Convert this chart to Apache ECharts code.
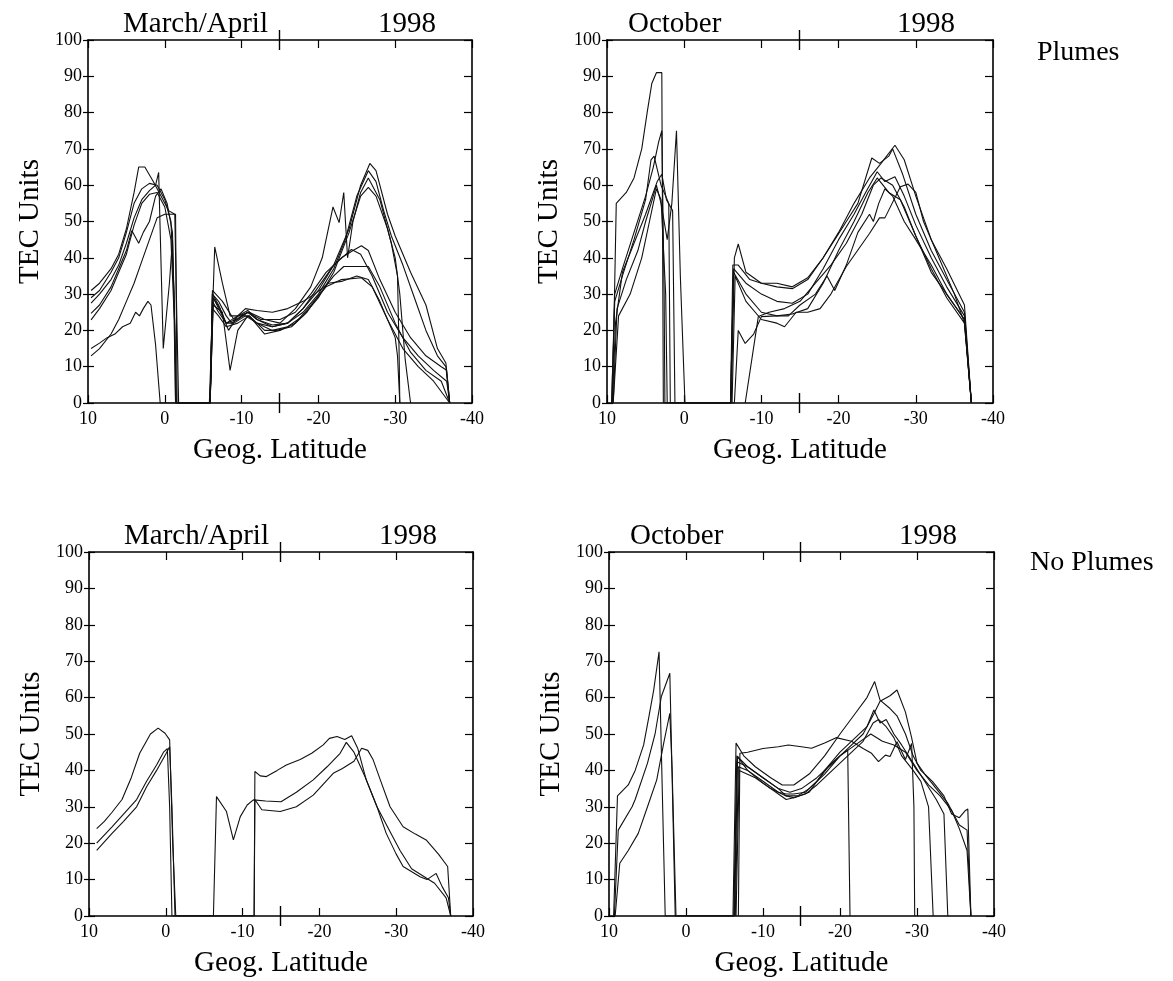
<!DOCTYPE html>
<html>
<head>
<meta charset="utf-8">
<script src="https://cdn.jsdelivr.net/npm/echarts@6/dist/echarts.min.js"></script>
<style>
  html, body { margin: 0; padding: 0; background: #fff; }
  #chart { width: 1173px; height: 981px; }
</style>
</head>
<body>
<div id="chart"></div>
<script>
// ---------- axis settings ----------
const latMin = -40, latMax = 10, latStep = 10;
const tecMin = 0, tecMax = 100, tecStep = 10;
const extraTickLat = [-14.9];

// ---------- panel texts ----------
const panelMonths = ['March/April', 'October', 'March/April', 'October'];
const panelYears = ['1998', '1998', '1998', '1998'];
const rowLabels = ['Plumes', 'No Plumes'];
const xName = 'Geog. Latitude';
const yName = 'TEC Units';

// ---------- data: [latitude, TEC] per pass ----------
// March/April 1998, plumes
const marchPlumes = [
  [[9.6,31],[8.5,33],[7,37],[6,41],[5,48],[4,58],[3.4,65],[2.6,65],[1.5,61],[0.5,57],[-0.5,53],[-1.3,52],[-1.6,20],[-1.8,0],[-5.9,0],[-6.2,30],[-7,28],[-8,24],[-8.7,22],[-9.5,23],[-10.8,25],[-12,23],[-14,21],[-16,22],[-18,26],[-20,31],[-22,38],[-24,48],[-25.5,60],[-26.7,66],[-27.5,64],[-29,52],[-30,46],[-32,36],[-34,27],[-35.5,15],[-36.6,11],[-37.1,0]],
  [[9.6,29],[8.5,31],[7,36],[6,40],[5,47],[4,55],[3,59],[2,60.5],[1,60],[0,56],[-0.8,50],[-1.2,30],[-1.5,0],[-5.9,0],[-6.3,29],[-7.2,26],[-8.3,20],[-9.5,24],[-10.8,25.5],[-12,23],[-14,21.5],[-16,22],[-18,25],[-20,30],[-22,37],[-23.5,45],[-25,57],[-26.5,64],[-27.5,61],[-28.5,53],[-29.5,46],[-31,38],[-32.5,29],[-34,20],[-35.5,13],[-36.6,10],[-37.1,0]],
  [[9.6,27.5],[8.5,30],[7,34],[6,38],[5,44],[4,51],[3,56],[2,58.5],[1.2,60],[0.8,63.5],[0.2,15],[-0.6,33],[-1,45],[-1.3,20],[-1.4,0],[-5.8,0],[-6.5,43],[-7.5,33],[-8.5,24],[-9.5,24],[-11,25],[-13,23],[-15,22],[-17,26],[-19,32],[-20.5,40],[-21.9,54],[-22.7,49.7],[-23.3,58],[-23.8,40],[-24.5,50],[-25.5,58],[-26.5,62],[-28,56],[-29.5,44],[-30.3,35],[-30.5,15],[-30.6,0]],
  [[9.6,24.7],[8.5,27],[7,32],[6,37],[5,42],[4.3,47.5],[3.4,44],[2.8,47],[2,50],[1.2,57],[0.5,59],[-0.3,55],[-1,47],[-1.3,20],[-1.5,0],[-5.9,0],[-6.2,28],[-7,25],[-8,22],[-9,22],[-10.5,24],[-12,22],[-14,20],[-16,21],[-18,24],[-20,29],[-22,36],[-24,47],[-25.5,57],[-26.5,59.4],[-27.5,57],[-29,48],[-30,40],[-30.6,30],[-31.3,12],[-32,0]],
  [[9.6,22.9],[8.5,26],[7,31],[6,36],[5,41],[4,49],[3,55],[2,57.5],[1,58],[0,54],[-0.8,45],[-1.2,25],[-1.4,0],[-5.9,0],[-6.2,30],[-7,27],[-8,22],[-9.3,23],[-10.8,25],[-12.5,23],[-15,23],[-17,25],[-19,30],[-21,36],[-23,40],[-24.5,42],[-25.6,43.3],[-26.5,42],[-28,34],[-30,25],[-32,18],[-34,13],[-36,10],[-36.7,9],[-37.1,0]],
  [[9.6,15],[8.5,16.5],[7.5,18],[6.5,19],[5.5,21],[4.5,22],[3.8,25],[3.3,24],[2.8,26],[2.2,28],[1.8,27],[1.2,16],[0.6,0],[-5.9,0],[-6.3,27],[-7.5,25],[-8.5,9],[-9.5,20],[-10.8,24],[-12,22],[-14,21],[-16,22],[-18,26],[-20,32],[-22,38],[-24.3,42.3],[-25.5,41],[-27,35],[-29,25],[-31,18],[-33,13],[-35,9],[-36.7,6],[-37.1,0]],
  [[9.6,13],[8.5,15],[7,19],[6,23],[5,28],[4,33],[3,39],[2,45],[1,51],[0,52],[-1,52],[-1.4,52],[-1.6,0],[-5.9,0],[-6.2,26],[-7,24],[-8,21],[-9.5,22],[-11,24],[-13,20],[-14.5,20],[-16.5,21],[-18.5,25],[-20.5,31],[-22,35],[-23.3,37.6],[-26.5,37.6],[-28,32],[-30,22],[-32,14],[-34,9],[-36,6],[-37.1,0]],
  [[-5.9,0],[-6.3,29],[-8,22],[-9.5,24],[-11,24],[-13,19],[-15,20],[-17,22],[-19,27],[-21,32],[-23,34],[-25.6,34.5],[-27,32],[-29,23],[-31,15],[-33,10],[-35,6],[-37.1,0]],
  [[-5.9,0],[-6.2,31],[-7.5,28],[-9,23],[-10.5,26],[-12,25.5],[-14,25],[-16,26],[-18,28],[-19.5,30],[-21.3,33],[-23,33.5],[-25,35],[-26.5,34],[-28,28],[-30,18],[-30.3,13],[-30.6,0]]
];

// October 1998, plumes
const octoberPlumes = [
  [[9.3,0],[8.8,55],[7.5,58],[6.5,62],[5.5,70],[4.8,80],[4.2,88],[3.6,91],[2.9,91],[2.7,0],[-6,0],[-6.3,38],[-7,38],[-8.5,34],[-10,33],[-12,32],[-14,31.5],[-16,34],[-18,40],[-20,47],[-22,55],[-24,62],[-25.5,66],[-27.3,71],[-28.5,67],[-30,57],[-32,45],[-34,37],[-36.3,27],[-37.2,0]],
  [[9.4,0],[9,30],[8,37],[6.5,47],[5,57],[4,65],[3.3,72],[2.9,75],[2.6,30],[2.5,0],[-6.1,0],[-6.5,40],[-7,43.8],[-8,36],[-10,33],[-12,33],[-14,32],[-16,34.5],[-18,40],[-19.5,45],[-21,50],[-22.5,55],[-24.3,67.5],[-25.3,66],[-26.5,68],[-27,70],[-28.3,63],[-30,52],[-32,42],[-34,34],[-36.3,25],[-37.2,0]],
  [[9.4,0],[9,28],[8,35],[6.5,45],[5,56],[4.3,67],[3.9,68],[3,60],[2,55],[1.8,0],[-6,0],[-6.4,37],[-8,33],[-10,30],[-12,28],[-14,27.5],[-16,30],[-18,37],[-20,45],[-22,52],[-23.5,58],[-25,63.7],[-26,61],[-27.3,62.3],[-28.5,57],[-30,49],[-32,40],[-34,32],[-36.3,24],[-37.2,0]],
  [[9.3,0],[8.9,22],[8,36],[6.5,44],[5,52],[4,58],[3.5,61],[2.9,63],[2.3,56],[1.5,53],[1.2,0],[-6,0],[-6.4,36],[-8,30],[-10,25],[-12,24],[-13.5,24],[-15,27],[-17,30],[-18.5,35],[-19.5,31],[-21,38],[-22.5,47],[-24,52],[-24.5,50],[-25.2,55],[-26,59],[-27,57],[-28.5,50],[-30,45],[-32,38],[-34,30],[-36.3,23],[-37.2,0]],
  [[9.2,0],[8.7,26],[7.5,34],[6,42],[5,50],[4,57],[3.6,60],[3,55],[2.2,45],[1.6,55],[1,75],[0.5,35],[-0.1,0],[-6.2,0],[-6.6,35],[-8,28],[-10,23],[-12,22],[-13,21],[-14.5,25],[-16,25],[-17.6,26],[-19,30],[-21,37.6],[-24,46.7],[-25.3,51],[-26,51],[-28,59.6],[-29,60.3],[-30,58],[-31,50],[-33,40],[-35,30],[-36.3,22],[-37.2,0]],
  [[9.2,0],[8.5,24],[7,30],[5.5,40],[4.5,50],[3.6,59],[3,56],[2.4,30],[2.2,0],[-6.5,0],[-7,20],[-7.9,16.4],[-9,19],[-10,23.8],[-12,24],[-14,24.5],[-16,26],[-18,33],[-20,42],[-22,50],[-23.8,58],[-25,62],[-26.5,58],[-28,56],[-30,46],[-32,36],[-34,30],[-36.3,23],[-37.2,0]],
  [[-7.9,0],[-9.6,23.8],[-11,25],[-13,26],[-15,28],[-17,33],[-19,38],[-21,44],[-23,52],[-24.5,60],[-25.5,62],[-27,60],[-28.5,54],[-30,46],[-32,37],[-34,29],[-36.3,22],[-37.2,0]]
];

// March/April 1998, no plumes
const marchNoPlumes = [
  [[9,24],[8,26],[7,28.5],[5.7,32],[4.5,38],[3.4,44.7],[2,50],[1,51.6],[0.1,50.2],[-0.5,48.4],[-0.9,20],[-1.3,0],[-6.2,0],[-6.6,32.8],[-7.9,28.7],[-8.8,20.9],[-9.7,27.3],[-10.6,30.5],[-11.4,31.9],[-13,31.6],[-15,31.4],[-17,34],[-19.2,37.4],[-21,41],[-22.7,44.7],[-23.5,47.7],[-24.5,45],[-26,38],[-27.5,30],[-29,24],[-30.5,18],[-32,13],[-33.5,11],[-35,9],[-36.5,5],[-37.1,0]],
  [[9,20],[7,24.5],[5.5,28],[3.8,32],[2.5,37],[1.2,41.5],[0.3,45],[-0.2,46],[-0.5,30],[-0.8,0],[-11.5,0],[-11.6,39.7],[-12.3,38.5],[-13.1,38.3],[-14.5,40],[-15.7,41.5],[-17.5,43],[-19,44.7],[-20.5,47],[-21.3,48.8],[-22.3,49.3],[-23.3,48.5],[-24.2,49.5],[-25,46],[-26.1,37.4],[-27.5,30],[-28.7,22.7],[-30,17],[-30.9,13.6],[-33.1,10.8],[-34,10],[-35.2,11.7],[-36,8],[-36.8,5],[-37.1,0]],
  [[9,18],[7,22.7],[5.5,26],[3.8,30],[2.5,35.5],[1.2,40],[0,44.5],[-0.5,46.5],[-0.8,30],[-1.2,0],[-11.5,0],[-11.6,32],[-12.5,29.2],[-14.9,28.7],[-17,30],[-19.2,33.2],[-21.8,39.2],[-23,40.5],[-24.5,42.5],[-25.5,46.1],[-26.3,45.5],[-27,42.9],[-28,37],[-29.2,30],[-30.9,24.5],[-32.5,22.5],[-33.9,20.9],[-35.5,17],[-36.7,13.6],[-37.1,0]]
];

// October 1998, no plumes
const octoberNoPlumes = [
  [[9.4,0],[8.9,33],[7.5,36],[6.6,40],[5.5,47],[4.9,53.8],[4.2,62],[3.5,72.6],[2.7,0],[-6.1,0],[-6.5,47.5],[-7.5,44],[-9,41],[-11,38],[-12.5,36],[-14,36],[-16,39],[-18,44],[-20,50],[-22,55.7],[-23.5,60],[-24.5,64.4],[-25.2,59.3],[-26.5,57],[-27.4,55],[-28.5,50],[-29.5,44],[-30.5,40],[-32,37],[-33.5,33],[-34.5,28],[-35.5,27],[-36.3,29],[-36.6,29.4],[-37,0]],
  [[9.3,0],[8.8,23.6],[7,30],[6.6,32],[5,42],[4,50.2],[3.2,60.3],[2.1,66.7],[1.4,0],[-6.3,0],[-6.6,44],[-8,41],[-10,38],[-12,35],[-13.5,34],[-15,35],[-17,38],[-19,42],[-21,46],[-23,50],[-24.5,56],[-25.2,59],[-26.5,60.5],[-27.4,62.1],[-28.5,56],[-29.3,49],[-30,42],[-31,39],[-32.5,35],[-34,31],[-35.5,25],[-36.5,23.6],[-37,0]],
  [[9.2,0],[8.6,14.5],[7.5,18],[6.2,22.7],[5,30],[3.8,37.4],[2.9,47.4],[2.1,55.7],[1.8,40],[1.3,0],[-6.2,0],[-6.6,42.4],[-8,41],[-10,38],[-12,35],[-13,33],[-14,32.5],[-16,34],[-18,40],[-20,45],[-22,49],[-23.5,52],[-24.4,56.6],[-25.2,53],[-26,54],[-27,50],[-28,47],[-29.5,42],[-31,37],[-32.5,32],[-33.5,28],[-34,0]],
  [[-6.8,0],[-7,44.7],[-8,45],[-10,46],[-12,46.5],[-13.3,47],[-15,46.5],[-16.3,46.1],[-18,47.5],[-19.5,49],[-21.5,48],[-23,46],[-24.1,44.7],[-25,42.4],[-25.9,44.2],[-26.5,43.8],[-27.4,47.9],[-28.5,43],[-29.3,47.4],[-29.6,30],[-29.7,0]],
  [[-6.3,0],[-6.7,43.8],[-8,40],[-10,37],[-12,34],[-13,33.5],[-14,33.5],[-15.5,34],[-17,37],[-18.5,41],[-20,44],[-21,45.6],[-21.3,0]],
  [[-6.4,0],[-6.8,41],[-8,40],[-10,36.5],[-12,33.5],[-13,32],[-14,32.5],[-15.5,33.5],[-17,36],[-19,40],[-21,44],[-23,48],[-24.3,53],[-25,54],[-26,52],[-27,49],[-28,44],[-29.5,40],[-30.5,37],[-31.5,30],[-32.1,0]],
  [[-6.5,0],[-6.9,40],[-9,38],[-11,35],[-13,33],[-14.5,33],[-16,35],[-18,39],[-20,44],[-22,47],[-24,50],[-25.5,48],[-27,47],[-28.5,45],[-30,40],[-31.5,36],[-33,33],[-34.5,29],[-35.5,24],[-36.5,18],[-37,0]]
];

const panels = [marchPlumes, octoberPlumes, marchNoPlumes, octoberNoPlumes];

// ---------- layout ----------
const FONT = "'Liberation Serif', 'Times New Roman', serif";
const grids = [
  { left: 88,  top: 40,  width: 384, height: 363 },
  { left: 607, top: 40,  width: 386, height: 363 },
  { left: 89,  top: 552, width: 384, height: 364 },
  { left: 609, top: 552, width: 385, height: 364 }
];

const lineCol = '#000';
const xAxes = [], yAxes = [], series = [], graphics = [];

grids.forEach((g, i) => {
  const baseX = {
    gridIndex: i, type: 'value', min: latMin, max: latMax, interval: latStep,
    inverse: true, splitLine: { show: false }
  };
  const mainLine = { show: true, onZero: false, lineStyle: { color: lineCol, width: 1.6 } };
  const noLine = { show: false, onZero: false };
  // bottom main
  xAxes.push(Object.assign({}, baseX, {
    position: 'bottom',
    axisLine: mainLine,
    axisTick: { show: true, inside: true, length: 8, lineStyle: { color: lineCol, width: 1.2 } },
    axisLabel: { show: true, color: '#000', fontFamily: FONT, fontSize: 18, margin: 7 },
    name: xName, nameLocation: 'middle', nameGap: 33,
    nameTextStyle: { color: '#000', fontFamily: FONT, fontSize: 29 }
  }));
  // top mirror
  xAxes.push(Object.assign({}, baseX, {
    position: 'top',
    axisLine: mainLine,
    axisTick: { show: true, inside: true, length: 8, lineStyle: { color: lineCol, width: 1.2 } },
    axisLabel: { show: false }
  }));
  // long crossing tick, bottom
  xAxes.push(Object.assign({}, baseX, {
    position: 'bottom', offset: 10,
    axisLine: noLine,
    axisTick: { show: true, inside: true, length: 20, customValues: extraTickLat, lineStyle: { color: lineCol, width: 1.4 } },
    axisLabel: { show: false }
  }));
  // long crossing tick, top
  xAxes.push(Object.assign({}, baseX, {
    position: 'top', offset: 10,
    axisLine: noLine,
    axisTick: { show: true, inside: true, length: 20, customValues: extraTickLat, lineStyle: { color: lineCol, width: 1.4 } },
    axisLabel: { show: false }
  }));

  const baseY = {
    gridIndex: i, type: 'value', min: tecMin, max: tecMax, interval: tecStep,
    splitLine: { show: false }
  };
  yAxes.push(Object.assign({}, baseY, {
    position: 'left',
    axisLine: mainLine,
    axisTick: { show: true, inside: true, length: 6, lineStyle: { color: lineCol, width: 1.2 } },
    axisLabel: { show: true, color: '#000', fontFamily: FONT, fontSize: 18, margin: 6 },
    name: yName, nameLocation: 'middle', nameGap: 43,
    nameTextStyle: { color: '#000', fontFamily: FONT, fontSize: 29 }
  }));
  yAxes.push(Object.assign({}, baseY, {
    position: 'right',
    axisLine: mainLine,
    axisTick: { show: true, inside: true, length: 8, lineStyle: { color: lineCol, width: 1.2 } },
    axisLabel: { show: false }
  }));
  yAxes.push(Object.assign({}, baseY, {
    position: 'left', offset: 5,
    axisLine: noLine,
    axisTick: { show: true, inside: true, length: 5, lineStyle: { color: lineCol, width: 1.2 } },
    axisLabel: { show: false }
  }));

  panels[i].forEach((curve, k) => {
    series.push({
      type: 'line', name: 'p' + i + '_' + k,
      xAxisIndex: i * 4, yAxisIndex: i * 3,
      data: curve, symbol: 'none', smooth: false,
      lineStyle: { color: '#111', width: 1.1 },
      z: 3
    });
  });

  // panel titles
  const titleY = g.top - 15;
  graphics.push({
    type: 'text', left: g.left + (i % 2 === 0 ? 35 : 21), top: titleY - 15,
    style: { text: panelMonths[i], font: '29px ' + FONT, fill: '#000' }
  });
  graphics.push({
    type: 'text', left: g.left + 290, top: titleY - 15,
    style: { text: panelYears[i], font: '29px ' + FONT, fill: '#000' }
  });
});

graphics.push({ type: 'text', left: 1037, top: 39,
  style: { text: rowLabels[0], font: '28px ' + FONT, fill: '#000' } });
graphics.push({ type: 'text', left: 1030, top: 549,
  style: { text: rowLabels[1], font: '28px ' + FONT, fill: '#000' } });

const chart = echarts.init(document.getElementById('chart'), null, { renderer: 'canvas' });
chart.setOption({
  backgroundColor: '#fff',
  animation: false,
  grid: grids.map(g => Object.assign({ containLabel: false }, g)),
  xAxis: xAxes,
  yAxis: yAxes,
  series: series,
  graphic: graphics
});
</script>
</body>
</html>
